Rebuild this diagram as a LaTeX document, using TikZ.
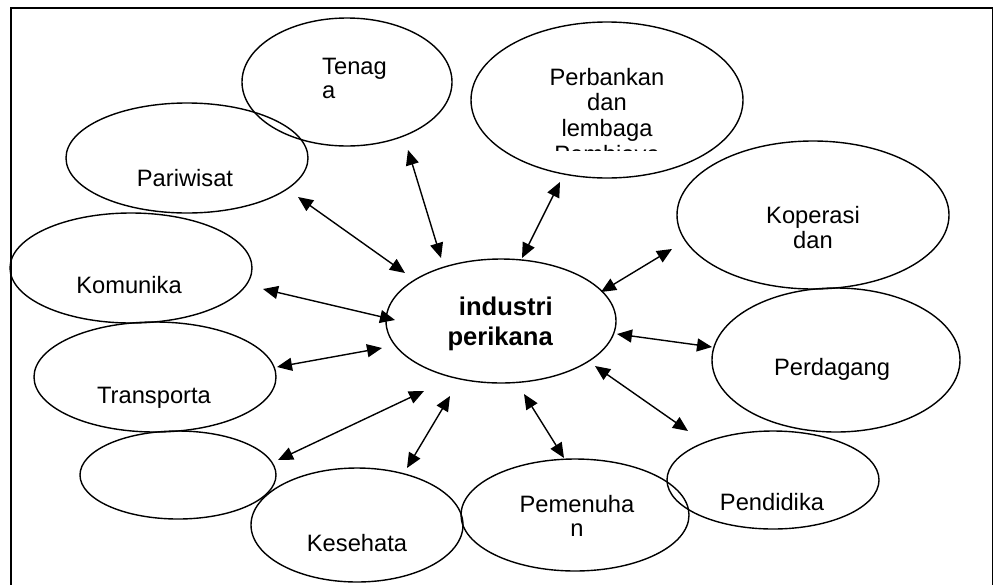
\documentclass[tikz,border=0pt]{standalone}
\usepackage{fontspec}
\setmainfont{Liberation Sans}
\usetikzlibrary{shapes.geometric,arrows.meta}
\tikzset{
  ell/.style={draw=black,line width=1.4pt,ellipse,inner sep=0pt},
  lbl/.style={inner sep=0pt,anchor=base,font=\fontsize{23.7}{26}\selectfont},
  boldlbl/.style={inner sep=0pt,font=\fontsize{25.6}{30}\selectfont\bfseries},
  arr/.style={line width=1.4pt,{Triangle[length=15pt,width=13pt]}-{Triangle[length=15pt,width=13pt]}},
}
\begin{document}
\begin{tikzpicture}[x=1pt,y=-1pt]
\useasboundingbox (0,0) rectangle (995,584);
\fill[white] (0,0) rectangle (995,584);
% frame
\draw[line width=1.8pt] (11,600) coordinate (fa) -- (11,8) -- (992.5,8) -- (992.5,600);
% ellipses
\node[ell,minimum width=210pt,minimum height=128pt] (ten) at (347,82) {};
\node[ell,minimum width=272pt,minimum height=156pt] (per) at (607,100) {};
\node[ell,minimum width=272pt,minimum height=148pt] (kop) at (813,215) {};
\node[ell,minimum width=248pt,minimum height=144pt] (dag) at (836,360) {};
\node[ell,minimum width=212pt,minimum height=98pt] (pdd) at (773,480) {};
\node[ell,minimum width=228pt,minimum height=112pt] (pem) at (575,515) {};
\node[ell,minimum width=212pt,minimum height=114pt] (kes) at (357,525) {};
\node[ell,minimum width=196pt,minimum height=88pt] (emp) at (178,475) {};
\node[ell,minimum width=242pt,minimum height=110pt] (tra) at (155,377) {};
\node[ell,minimum width=242pt,minimum height=110pt] (kom) at (131,268) {};
\node[ell,minimum width=242pt,minimum height=110pt] (par) at (187,158) {};
\node[ell,minimum width=230pt,minimum height=124pt] (ind) at (501,321) {};
% texts
\node[lbl,anchor=base west] (tenA) at (322,74) {Tenag};
\node[lbl,anchor=base west] (tenB) at (322,98) {a};
\node[lbl] (perA) at (607,85) {Perbankan};
\node[lbl] (perB) at (607,110) {dan};
\node[lbl] (perC) at (607,136) {lembaga};
\begin{scope}
\clip (450,120) rectangle (760,150.5);
\node[lbl] (perD) at (607,162) {Pembiaya};
\end{scope}
\node[lbl] (kopA) at (813,223) {Koperasi};
\node[lbl] (kopB) at (813,248) {dan};
\node[lbl] (dagA) at (832,375) {Perdagang};
\node[lbl] (pddA) at (772,510) {Pendidika};
\node[lbl] (pemA) at (577,512) {Pemenuha};
\node[lbl] (pemB) at (577,536) {n};
\node[lbl] (kesA) at (357,551) {Kesehata};
\node[lbl] (traA) at (154,403) {Transporta};
\node[lbl] (komA) at (129,293) {Komunika};
\node[lbl] (parA) at (185,186) {Pariwisat};
\node[boldlbl,anchor=base east] (indA) at (553,315) {industri};
\node[boldlbl,anchor=base east] (indB) at (553,345) {perikana};
% connector end points
\coordinate (c1a) at (298,197); \coordinate (c1b) at (405,273);
\coordinate (c2a) at (408,150); \coordinate (c2b) at (441,258);
\coordinate (c3a) at (560,182); \coordinate (c3b) at (522,258);
\coordinate (c4a) at (672,249); \coordinate (c4b) at (601,292);
\coordinate (c5a) at (712,347); \coordinate (c5b) at (617,334);
\coordinate (c6a) at (688,431); \coordinate (c6b) at (595,366);
\coordinate (c7a) at (564,458); \coordinate (c7b) at (524,394);
\coordinate (c8a) at (407,468); \coordinate (c8b) at (450,396);
\coordinate (c9a) at (278,460); \coordinate (c9b) at (424,391);
\coordinate (c10a) at (277,367); \coordinate (c10b) at (382,348);
\coordinate (c11a) at (263,289); \coordinate (c11b) at (395,320);
\foreach \i in {1,...,11} {\draw[arr] (c\i a) -- (c\i b);}
\end{tikzpicture}
\end{document}
